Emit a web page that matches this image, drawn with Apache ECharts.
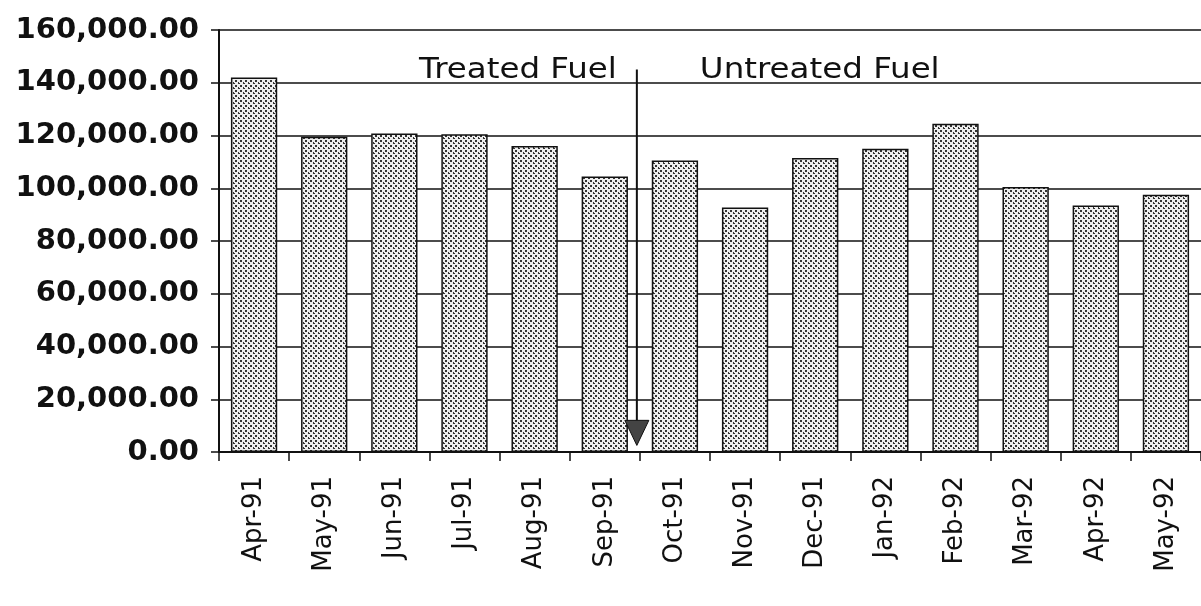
<!DOCTYPE html>
<html>
<head>
<meta charset="utf-8">
<script src="https://cdn.jsdelivr.net/npm/echarts@6/dist/echarts.min.js"></script>
<style>
    html, body { margin: 0; padding: 0; background: #fff; }
    #chart { width: 1201px; height: 606px; }
</style>
</head>
<body>
<div id="chart"></div>
<script>
// 月份（类目）
var months = ['Apr-91', 'May-91', 'Jun-91', 'Jul-91', 'Aug-91', 'Sep-91', 'Oct-91',
    'Nov-91', 'Dec-91', 'Jan-92', 'Feb-92', 'Mar-92', 'Apr-92', 'May-92'];
// 每月数值
var fuelValues = [142000, 119500, 120800, 120500, 116000, 104500, 110500,
    92700, 111500, 115000, 124500, 100500, 93500, 97500];
// y 轴刻度
var yTicks = [0, 20000, 40000, 60000, 80000, 100000, 120000, 140000, 160000];
// 分段标注
var sectionNames = ['Treated Fuel', 'Untreated Fuel'];
var lastTreated = 'Sep-91';

var chart = echarts.init(document.getElementById('chart'));

/* 网点填充（模拟扫描图中的灰色网点） */
function dotPattern() {
    var c = document.createElement('canvas');
    c.width = 5;
    c.height = 5;
    var ctx = c.getContext('2d');
    ctx.fillStyle = '#eeeeee';
    ctx.fillRect(0, 0, 5, 5);
    ctx.fillStyle = '#333333';
    ctx.fillRect(0, 0, 2, 2);
    ctx.fillRect(3, 3, 2, 1);
    ctx.fillRect(3, 2, 1, 2);
    return c;
}

function fmt(v) {
    var s = v.toFixed(2).split('.');
    s[0] = s[0].replace(/\B(?=(\d{3})+(?!\d))/g, ',');
    return s.join('.');
}

var option = {
    animation: false,
    grid: { left: 219, top: 30, width: 992, height: 422 },
    xAxis: {
        type: 'category',
        data: months,
        axisLine: { lineStyle: { color: '#111', width: 2 } },
        axisTick: { show: true, length: 9, lineStyle: { color: '#111', width: 1.5 } },
        axisLabel: {
            rotate: 90,
            margin: 24,
            color: '#111',
            fontFamily: 'DejaVu Sans',
            fontSize: 26
        }
    },
    yAxis: {
        type: 'value',
        min: yTicks[0],
        max: yTicks[yTicks.length - 1],
        interval: yTicks[1] - yTicks[0],
        axisLine: { show: true, lineStyle: { color: '#111', width: 2 } },
        axisTick: { show: true, length: 8, lineStyle: { color: '#111', width: 1.5 } },
        splitLine: { show: true, lineStyle: { color: '#111', width: 1.5 } },
        axisLabel: {
            margin: 20,
            color: '#111',
            fontFamily: 'DejaVu Sans',
            fontWeight: 'bold',
            fontSize: 29,
            formatter: fmt
        }
    },
    series: [{
        type: 'bar',
        data: fuelValues,
        barCategoryGap: '34%',
        itemStyle: {
            color: { image: dotPattern(), repeat: 'repeat' },
            borderColor: '#111',
            borderWidth: 1.5
        }
    }]
};
chart.setOption(option);

/* 处理前后分界线与标注 */
var idx = months.indexOf(lastTreated);
var xa = chart.convertToPixel({ xAxisIndex: 0 }, months[idx]);
var xb = chart.convertToPixel({ xAxisIndex: 0 }, months[idx + 1]);
var xDiv = (xa + xb) / 2 - 3;
var yTop = chart.convertToPixel({ yAxisIndex: 0 }, 145000);
var yLabel = chart.convertToPixel({ yAxisIndex: 0 }, 140000);
var yArrTop = chart.convertToPixel({ yAxisIndex: 0 }, 12000);
var yArrTip = chart.convertToPixel({ yAxisIndex: 0 }, 2500);

chart.setOption({
    graphic: [
        {
            type: 'line',
            z: 100,
            shape: { x1: xDiv, y1: yTop, x2: xDiv, y2: yArrTop },
            style: { stroke: '#111', lineWidth: 2 }
        },
        {
            type: 'polygon',
            z: 100,
            shape: { points: [[xDiv - 12, yArrTop], [xDiv + 12, yArrTop], [xDiv, yArrTip]] },
            style: { fill: '#444', stroke: '#111', lineWidth: 1 }
        },
        {
            type: 'text',
            z: 100,
            x: xDiv - 20,
            y: yLabel + 2,
            scaleX: 1.12,
            style: {
                text: sectionNames[0],
                fill: '#111',
                font: '29px "DejaVu Sans"',
                align: 'right',
                verticalAlign: 'bottom'
            }
        },
        {
            type: 'text',
            z: 100,
            x: xDiv + 63,
            y: yLabel + 2,
            scaleX: 1.12,
            style: {
                text: sectionNames[1],
                fill: '#111',
                font: '29px "DejaVu Sans"',
                align: 'left',
                verticalAlign: 'bottom'
            }
        }
    ]
});
</script>
</body>
</html>
